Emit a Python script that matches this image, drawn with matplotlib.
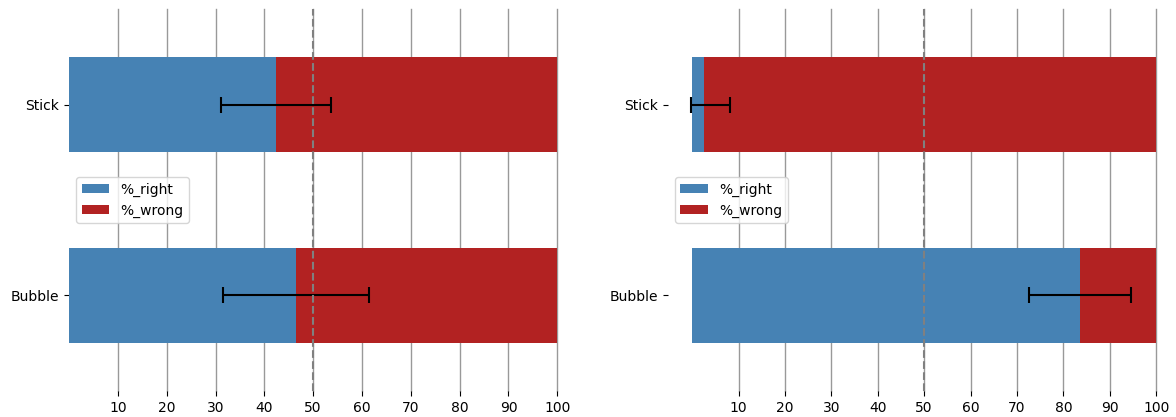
import matplotlib.pyplot as plt
import numpy as np

# stacked % right / % wrong per chart type, two conditions
categories = ['Bubble', 'Stick']
right_a = [46.5, 42.4]
right_b = [83.6, 2.6]
# error bars (lower, upper) around the % right value
err_a = [[15.0, 11.3], [15.0, 11.3]]
err_b = [[11.0, 2.9], [11.0, 5.5]]

blue = '#4682B4'
red = '#B22222'

fig = plt.figure(figsize=(11.76, 4.17), dpi=100)
ax1 = fig.add_axes([0.0587, 0.0624, 0.4152, 0.916])
ax2 = fig.add_axes([0.568, 0.0624, 0.4152, 0.916])


def stacked_panel(ax, right, err, xmin):
    y = np.arange(len(categories))
    right = np.array(right)
    wrong = 100 - right
    ax.barh(y, right, height=0.5, color=blue, label='%_right')
    ax.barh(y, wrong, height=0.5, left=right, color=red, label='%_wrong')
    ax.errorbar(right, y, xerr=err, fmt='none', ecolor='black',
                elinewidth=1.5, capsize=6, capthick=1.5)
    ax.axvline(50, color='grey', linestyle='--', linewidth=1.5, zorder=5)
    ax.set_yticks(y)
    ax.set_yticklabels(categories)
    ax.set_xticks(range(10, 101, 10))
    ax.set_xlim(xmin, 100)
    ax.set_ylim(-0.5, 1.5)
    ax.set_axisbelow(True)
    ax.grid(axis='x', color='grey', linewidth=1, alpha=0.8)
    for g in ax.get_xgridlines():
        g.set_clip_on(False)
    for s in ax.spines.values():
        s.set_visible(False)
    ax.legend(loc='center left')


stacked_panel(ax1, right_a, err_a, 0)
stacked_panel(ax2, right_b, err_b, -5.2)

fig.savefig('out.png', dpi=100)
